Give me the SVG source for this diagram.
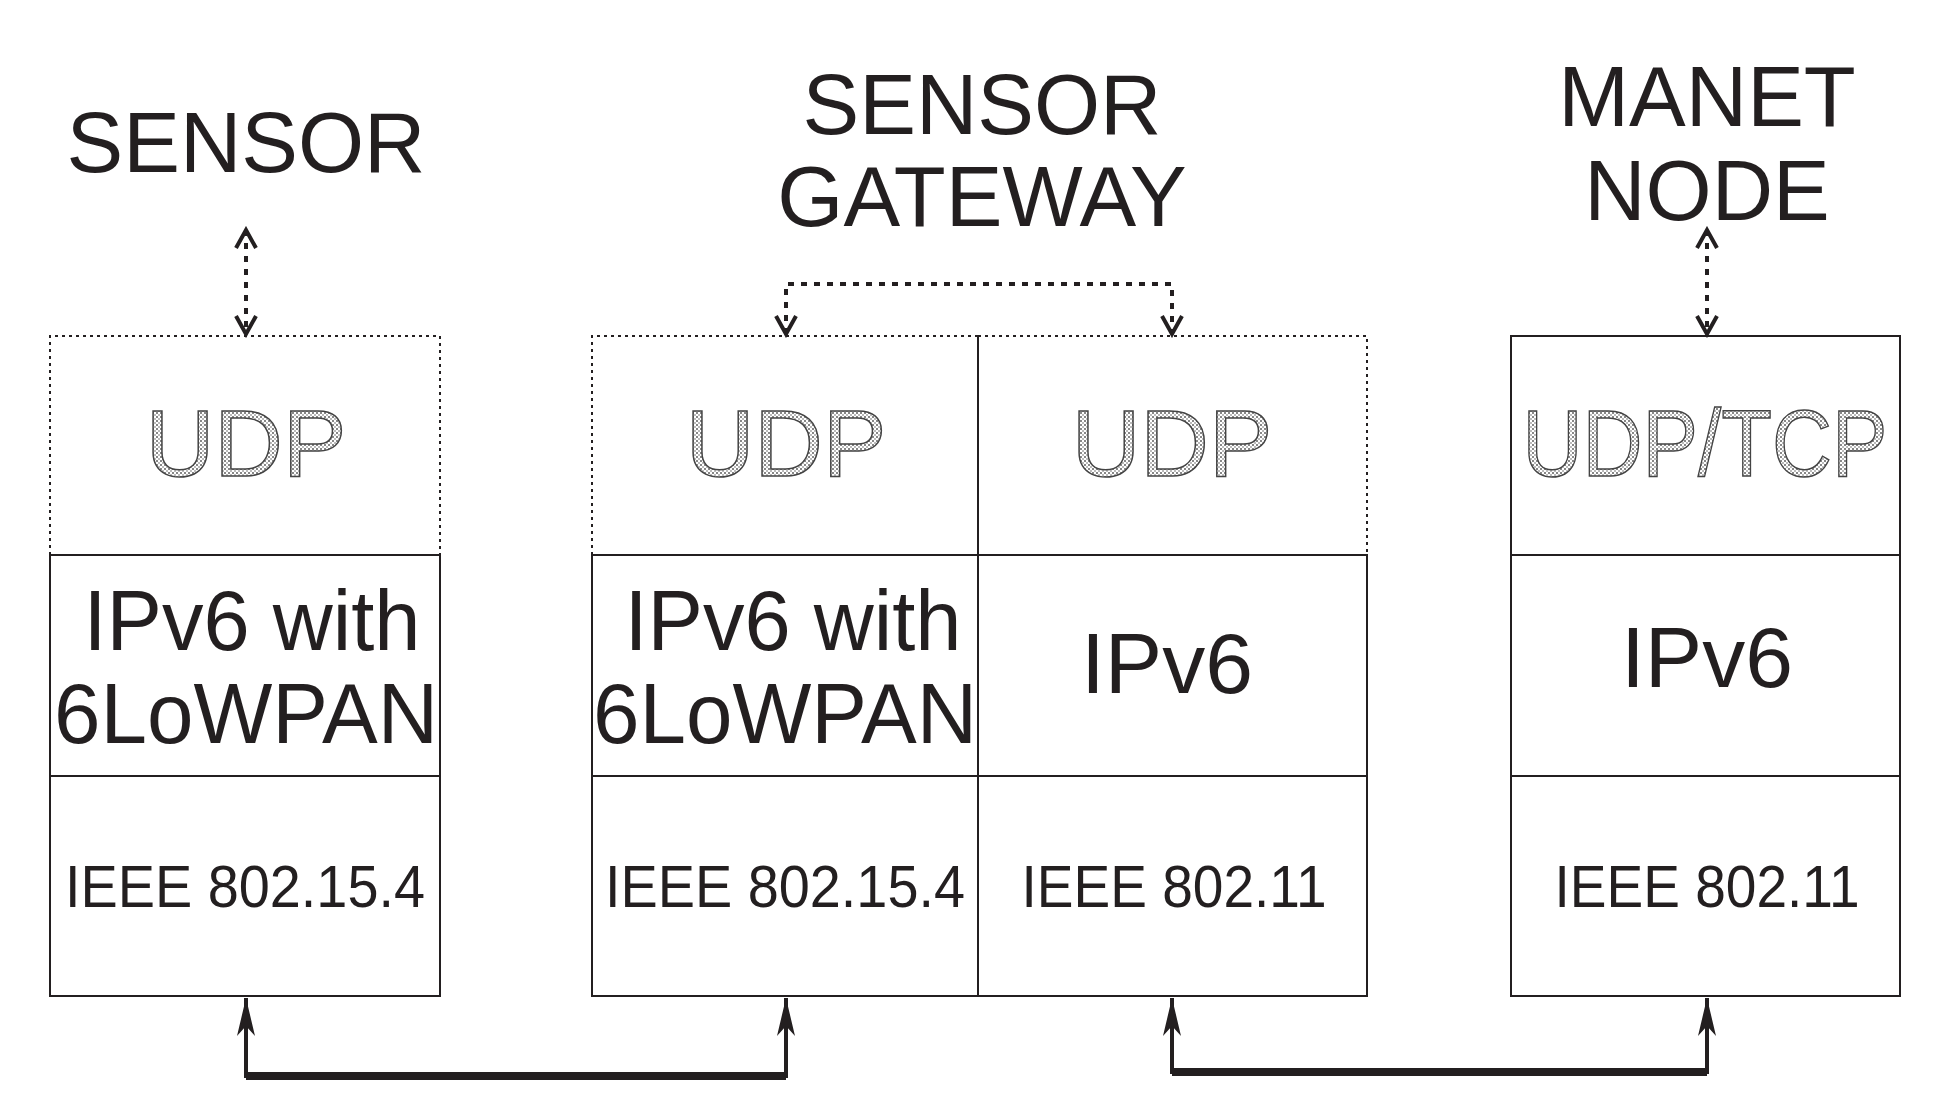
<svg xmlns="http://www.w3.org/2000/svg" width="1949" height="1104" viewBox="0 0 1949 1104">
<defs>
<pattern id="hatch" width="4" height="4" patternUnits="userSpaceOnUse"><rect width="4" height="4" fill="#fff"/><rect width="2" height="2" fill="#888"/><rect x="2" y="2" width="2" height="2" fill="#bbb"/></pattern>
<marker id="ah" markerWidth="24" markerHeight="24" refX="20" refY="12" orient="auto-start-reverse" markerUnits="userSpaceOnUse"><path d="M2,2 L20,12 L2,22" fill="none" stroke="#231f20" stroke-width="4"/></marker>
<marker id="ab" markerWidth="40" markerHeight="24" refX="38" refY="12" orient="auto-start-reverse" markerUnits="userSpaceOnUse"><path d="M0,3 L38,12 L0,21 L10,12 Z" fill="#231f20"/></marker>
</defs>
<style>
text{font-family:"Liberation Sans",Arial,sans-serif;fill:#231f20;text-anchor:middle}
.t{font-size:85px}
.u{font-size:95px;fill:url(#hatch);stroke:#444;stroke-width:1.5}
.ip{font-size:86px}
.ie{font-size:59px}
.box{fill:none;stroke:#231f20;stroke-width:2}
.dot{fill:none;stroke:#231f20;stroke-width:2;stroke-dasharray:3 4}
.dc{fill:none;stroke:#231f20;stroke-width:4;stroke-dasharray:6 7}
.sc{fill:none;stroke:#231f20;stroke-width:4}
</style>
<g id="title-sensor"><text class="t" x="246" y="172">SENSOR</text></g>
<g id="title-gateway"><text class="t" x="982" y="134">SENSOR</text><text class="t" x="982" y="226">GATEWAY</text></g>
<g id="title-manet"><text class="t" x="1707" y="126">MANET</text><text class="t" x="1707" y="220">NODE</text></g>
<g id="sensor">
<path class="dot" d="M50,555 V336 H440 V555"/>
<path class="box" d="M50,555 H440 V996 H50 Z M50,776 H440"/>
<text class="u" x="246" y="476">UDP</text>
<text class="ip" x="252" y="650" textLength="337" lengthAdjust="spacingAndGlyphs">IPv6 with</text>
<text class="ip" x="246" y="743" textLength="384" lengthAdjust="spacingAndGlyphs">6LoWPAN</text>
<text class="ie" x="245" y="907" textLength="360" lengthAdjust="spacingAndGlyphs">IEEE 802.15.4</text>
</g>
<g id="gateway-left">
<path class="dot" d="M592,555 V336 H978"/>
<path class="box" d="M592,555 H978 V996 H592 Z M592,776 H978 M978,336 V555"/>
<text class="u" x="786" y="476">UDP</text>
<text class="ip" x="793" y="650" textLength="337" lengthAdjust="spacingAndGlyphs">IPv6 with</text>
<text class="ip" x="785" y="743" textLength="384" lengthAdjust="spacingAndGlyphs">6LoWPAN</text>
<text class="ie" x="785" y="907" textLength="360" lengthAdjust="spacingAndGlyphs">IEEE 802.15.4</text>
</g>
<g id="gateway-right">
<path class="dot" d="M978,336 H1367 V555"/>
<path class="box" d="M978,555 H1367 V996 H978 M978,776 H1367"/>
<text class="u" x="1172" y="476">UDP</text>
<text class="ip" x="1167" y="693">IPv6</text>
<text class="ie" x="1174" y="907" textLength="305" lengthAdjust="spacingAndGlyphs">IEEE 802.11</text>
</g>
<g id="manet">
<path class="box" d="M1511,336 H1900 V996 H1511 Z M1511,555 H1900 M1511,776 H1900"/>
<text class="u" x="1705" y="476" textLength="365" lengthAdjust="spacingAndGlyphs">UDP/TCP</text>
<text class="ip" x="1707" y="687">IPv6</text>
<text class="ie" x="1707" y="907" textLength="305" lengthAdjust="spacingAndGlyphs">IEEE 802.11</text>
</g>
<g id="connectors">
<path class="dc" d="M246,230 V334" marker-start="url(#ah)" marker-end="url(#ah)"/>
<path class="dc" d="M786,334 V284 H1172 V334" marker-start="url(#ah)" marker-end="url(#ah)"/>
<path class="dc" d="M1707,230 V334" marker-start="url(#ah)" marker-end="url(#ah)"/>
<path class="sc" d="M246,998 V1076 H786 V998" marker-start="url(#ab)" marker-end="url(#ab)"/>
<path class="sc" d="M1172,998 V1072 H1707 V998" marker-start="url(#ab)" marker-end="url(#ab)"/>
<path d="M246,1076 H786 M1172,1072 H1707" stroke="#231f20" stroke-width="8"/>
</g>
</svg>
